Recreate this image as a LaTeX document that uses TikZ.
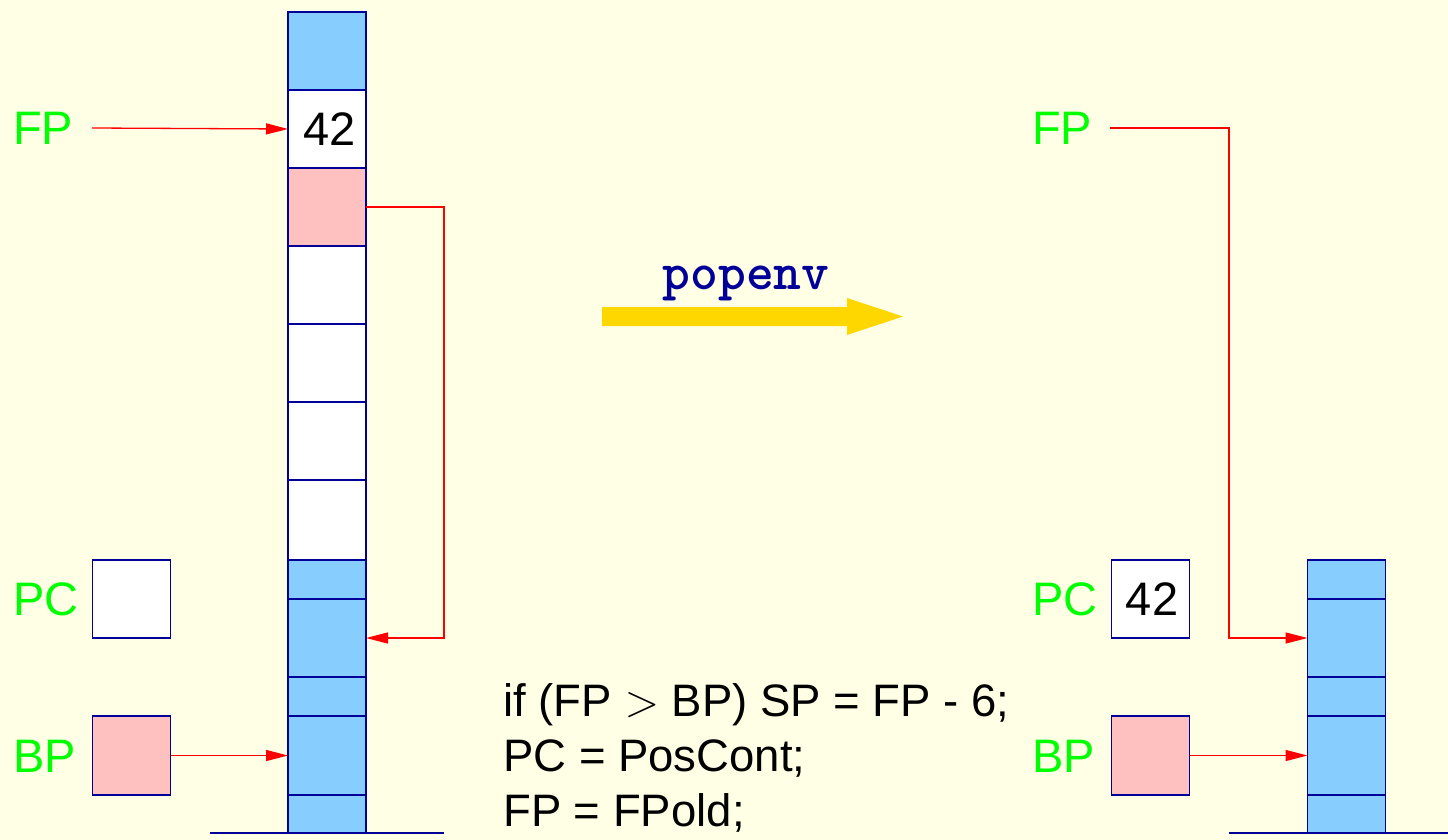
\documentclass[tikz,border=0pt]{standalone}
\usepackage{fix-cm}
\usepackage{fontspec}
\setmainfont{Liberation Sans}
\usetikzlibrary{arrows.meta,calc}
\definecolor{bg}{RGB}{255,255,230}
\definecolor{lbl}{RGB}{0,255,0}
\definecolor{cellblue}{RGB}{135,206,255}
\definecolor{cellpink}{RGB}{255,192,192}
\definecolor{edgeblue}{RGB}{0,0,153}
\definecolor{ptrred}{RGB}{255,0,0}
\definecolor{goldarrow}{RGB}{255,215,0}
\definecolor{kwblue}{RGB}{0,0,153}
\begin{document}
\begin{tikzpicture}[x=1pt,y=-1pt,
  cell/.style={draw=edgeblue,line width=1.4pt,minimum width=78pt,inner sep=0pt,outer sep=0pt,
    font=\fontsize{47}{56}\selectfont},
  blue/.style={fill=cellblue},
  pink/.style={fill=cellpink},
  white/.style={fill=white},
  regname/.style={text=lbl,anchor=base west,inner sep=0pt,font=\fontsize{47}{56}\selectfont},
  code/.style={text=black,anchor=base west,inner sep=0pt,font=\fontsize{45.5}{56}\selectfont},
  ptr/.style={draw=ptrred,line width=1.3pt,-{Triangle[length=22pt,width=11pt]}},
  ground/.style={draw=edgeblue,line width=1.4pt}
]
\useasboundingbox (0,0) rectangle (1448,840);
\fill[bg] (0,0) rectangle (1448,840);

% left stack
\node[cell,blue,minimum height=78pt] (L1) at (327,51) {};
\node[cell,white,minimum height=78pt] (L2) at (327,129) {\hspace*{5pt}42};
\node[cell,pink,minimum height=78pt] (L3) at (327,207) {};
\node[cell,white,minimum height=78pt] (L4) at (327,285) {};
\node[cell,white,minimum height=78pt] (L5) at (327,363) {};
\node[cell,white,minimum height=78pt] (L6) at (327,441) {};
\node[cell,white,minimum height=80pt] (L7) at (327,520) {};
\node[cell,blue,minimum height=39pt] (L8) at (327,579.5) {};
\node[cell,blue,minimum height=78pt] (L9) at (327,638) {};
\node[cell,blue,minimum height=39pt] (L10) at (327,696.5) {};
\node[cell,blue,minimum height=79pt] (L11) at (327,755.5) {};
\node[cell,blue,minimum height=38pt] (L12) at (327,814) {};
\coordinate (gl1) at (210,833);
\coordinate (gl2) at (444,833);
\draw[ground] (gl1) -- (gl2);

% left registers
\node[regname] (fpL) at (13,144) {FP};
\node[regname] (pcL) at (13,615) {PC};
\node[regname] (bpL) at (13,772) {BP};
\node[cell,white,minimum height=78pt] (pcLB) at (131.5,599) {};
\node[cell,pink,minimum height=79pt] (bpLB) at (131.5,755.5) {};

\coordinate (fpLs) at (92,128);
\draw[ptr] (fpLs) -- (L2.west);
\coordinate (retc) at (444,638);
\draw[ptr] (L3.east) -| (retc) -- (L9.east);
\draw[ptr] (bpLB.east) -- (L11.west);

% transition arrow
\node[text=kwblue,font=\fontsize{53}{60}\selectfont\ttfamily\bfseries,inner sep=0pt,anchor=base] (op) at (746,289) {popenv};
\fill[goldarrow] (602,307) -- (847,307) -- (847,298) -- (903,316.5) -- (847,335) -- (847,326) -- (602,326) -- cycle;

% code
\node[code] (c1) at (503,716) {if (FP $>$ BP) SP = FP - 6;};
\node[code] (c2) at (503,771) {PC = PosCont;};
\node[code] (c3) at (503,826) {FP = FPold;};

% right stack
\node[cell,blue,minimum height=39pt] (R1) at (1346.5,579.5) {};
\node[cell,blue,minimum height=78pt] (R2) at (1346.5,638) {};
\node[cell,blue,minimum height=39pt] (R3) at (1346.5,696.5) {};
\node[cell,blue,minimum height=79pt] (R4) at (1346.5,755.5) {};
\node[cell,blue,minimum height=38pt] (R5) at (1346.5,814) {};
\coordinate (gr1) at (1229,833);
\coordinate (gr2) at (1448,833);
\draw[ground] (gr1) -- (gr2);

% right registers
\node[regname] (fpR) at (1032,144) {FP};
\node[regname] (pcR) at (1032,615) {PC};
\node[regname] (bpR) at (1032,772) {BP};
\node[cell,white,minimum height=78pt] (pcRB) at (1150.5,599) {\hspace*{3pt}42};
\node[cell,pink,minimum height=79pt] (bpRB) at (1150.5,755.5) {};

\coordinate (fpRs) at (1110,128);
\coordinate (fpRc) at (1229,638);
\draw[ptr] (fpRs) -| (fpRc) -- (R2.west);
\draw[ptr] (bpRB.east) -- (R4.west);
\end{tikzpicture}
\end{document}
